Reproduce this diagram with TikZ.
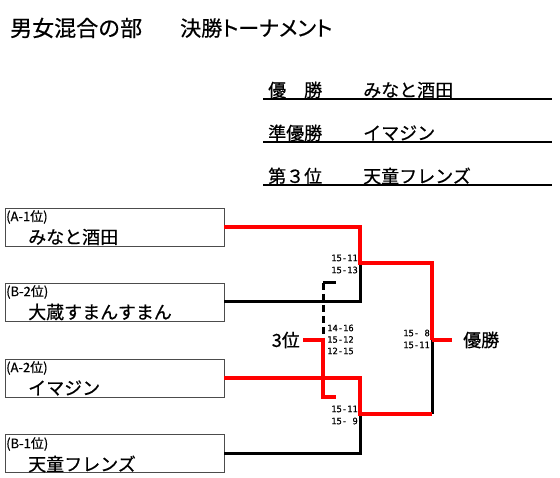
\documentclass[tikz,border=0pt]{standalone}
\usepackage{fontspec}
\newfontfamily\jp[FakeBold=0.6]{Noto Sans CJK JP}
\newfontfamily\jpp[RawFeature=+palt,FakeBold=0.6]{Noto Sans CJK JP}
\newfontfamily\score[FakeBold=0.4]{DejaVu Sans Mono}
\begin{document}
\begin{tikzpicture}[x=1pt,y=-1pt,
  txt/.style={inner sep=0pt,font=\jp},
  teambox/.style={draw=black!70,line width=0.9pt,minimum width=219pt,minimum height=38pt,inner sep=0pt},
  rank/.style={inner sep=0pt,anchor=west,font=\jp\fontsize{13}{14}\selectfont},
  team/.style={inner sep=0pt,anchor=west,font=\jp\fontsize{18}{20}\selectfont},
  res/.style={inner sep=0pt,anchor=west,font=\jp\fontsize{18}{20}\selectfont},
  sc/.style={inner sep=0pt,font=\score\fontsize{8.8}{9}\selectfont},
  win/.style={red,line width=3.6pt},
  lose/.style={black,line width=3pt},
  uline/.style={black,line width=1.6pt}]
\useasboundingbox (0,0) rectangle (560,478);
% title
\node[txt,anchor=west,font=\jp\fontsize{22}{24}\selectfont] (t1) at (10,28) {男女混合の部};
\node[txt,anchor=west,font=\jpp\fontsize{21}{24}\selectfont] (t2) at (180,28) {決勝トーナメント};
% results
\node[res] (r1a) at (268,90) {優　勝};
\node[res] (r1b) at (363,90) {みなと酒田};
\node[res] (r2a) at (268,133) {準優勝};
\node[res] (r2b) at (363,133) {イマジン};
\node[res] (r3a) at (268,176) {第３位};
\node[res] (r3b) at (363,176) {天童フレンズ};
\coordinate (u1a) at (263,99); \coordinate (u1b) at (552,99);
\coordinate (u2a) at (263,142); \coordinate (u2b) at (552,142);
\coordinate (u3a) at (263,185); \coordinate (u3b) at (552,185);
\draw[uline] (u1a) -- (u1b);
\draw[uline] (u2a) -- (u2b);
\draw[uline] (u3a) -- (u3b);
% boxes
\node[teambox] (b1) at (114.5,227) {};
\node[teambox] (b2) at (114.5,302) {};
\node[teambox] (b3) at (114.5,378) {};
\node[teambox] (b4) at (114.5,453.5) {};
\node[rank] (l1) at (6,217) {(A-1位)};
\node[team] (n1) at (28,237) {みなと酒田};
\node[rank] (l2) at (6,292) {(B-2位)};
\node[team] (n2) at (28,312) {大蔵すまんすまん};
\node[rank] (l3) at (6,368) {(A-2位)};
\node[team] (n3) at (28,388) {イマジン};
\node[rank] (l4) at (6,444) {(B-1位)};
\node[team] (n4) at (28,464) {天童フレンズ};
% labels
\node[txt,anchor=east,font=\jp\fontsize{18}{20}\selectfont] (third) at (300,340) {3位};
\node[txt,anchor=west,font=\jp\fontsize{18}{20}\selectfont] (champ) at (463,340) {優勝};
% coordinates
\coordinate (j1) at (360,263);
\coordinate (j2) at (360,414);
\coordinate (f) at (432,340);
\coordinate (fb) at (432,414);
\coordinate (p1) at (323,283);
\coordinate (p1e) at (336,283);
\coordinate (p) at (323,340);
\coordinate (p2) at (323,397);
\coordinate (p2e) at (336,397);
% losers
\draw[lose] (b2.east) -| (j1);
\draw[lose] (b4.east) -| (j2);
\draw[lose] (fb) -- (f);
\draw[lose] (p1e) -- (p1);
\draw[lose,dash pattern=on 7pt off 4pt] (p1) -- (p);
% winners
\draw[win] (b1.east) -| (j1) -| (f);
\draw[win,shorten >=11pt] (f) -- (champ.west);
\draw[win] (b3.east) -| (j2) -- (fb);
\draw[win,shorten <=3pt] (third.east) -- (p) -- (p2) -- (p2e);
% scores
\node[sc,anchor=east] (s1) at (358,258) {15-11};
\node[sc,anchor=east] (s2) at (358,270) {15-13};
\node[sc,anchor=east] (s3) at (358,409) {15-11};
\node[sc,anchor=east] (s4) at (358,421) {15- 9};
\node[sc,anchor=east] (s5) at (430,333) {15- 8};
\node[sc,anchor=east] (s6) at (430,345) {15-11};
\node[sc,anchor=west] (s7) at (327,328) {14-16};
\node[sc,anchor=west] (s8) at (327,339.5) {15-12};
\node[sc,anchor=west] (s9) at (327,351) {12-15};
\end{tikzpicture}
\end{document}
